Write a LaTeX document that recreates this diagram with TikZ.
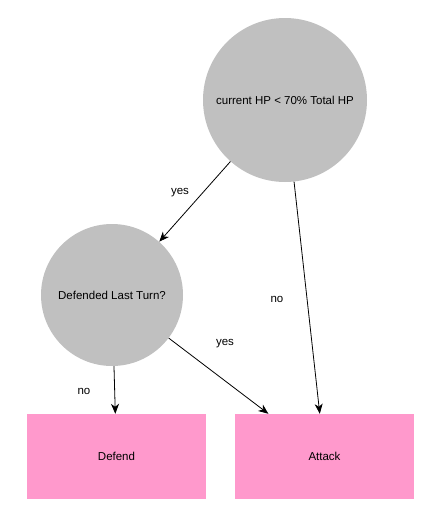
\documentclass[tikz,border=0pt]{standalone}
\usepackage{fontspec}
\setmainfont{Liberation Sans}
\usepackage{tikz}
\usetikzlibrary{arrows.meta}
\definecolor{testgray}{HTML}{C0C0C0}
\definecolor{leafpink}{HTML}{FF99CC}
\tikzset{
    test/.style={circle, fill=testgray, minimum size=#1, inner sep=0pt, font=\fontsize{11.5}{13}\selectfont},
    leaf/.style={rectangle, fill=leafpink, minimum width=179pt, minimum height=85pt, inner sep=0pt, font=\fontsize{11.5}{13}\selectfont},
    edgelabel/.style={font=\fontsize{11.5}{13}\selectfont, inner sep=1pt},
    branch/.style={-{Stealth[length=10pt,width=8pt,inset=3pt]}, line width=0.8pt}
}
\begin{document}
\begin{tikzpicture}[x=1pt, y=-1pt]
            \useasboundingbox (0,0) rectangle (446,515);

            % tests
            \node[test=164pt] (hp) at (285,100) {current HP < 70\% Total HP};
            \node[test=142pt] (def) at (112,295) {Defended Last Turn?};

            % actions
            \node[leaf] (defend) at (116.5,456.5) {Defend};
            \node[leaf] (attack) at (324.5,456.5) {Attack};

            % branches
            \draw[branch] (hp) -- (def);
            \draw[branch] (hp) -- (attack);
            \draw[branch] (def) -- (defend);
            \draw[branch] (def) -- (attack);

            % branch labels
            \node[edgelabel] (hpyes) at (180,193) {yes};
            \node[edgelabel] (hpno) at (277,299) {no};
            \node[edgelabel] (defyes) at (225,344) {yes};
            \node[edgelabel] (defno) at (84,391) {no};
        \end{tikzpicture}
\end{document}
